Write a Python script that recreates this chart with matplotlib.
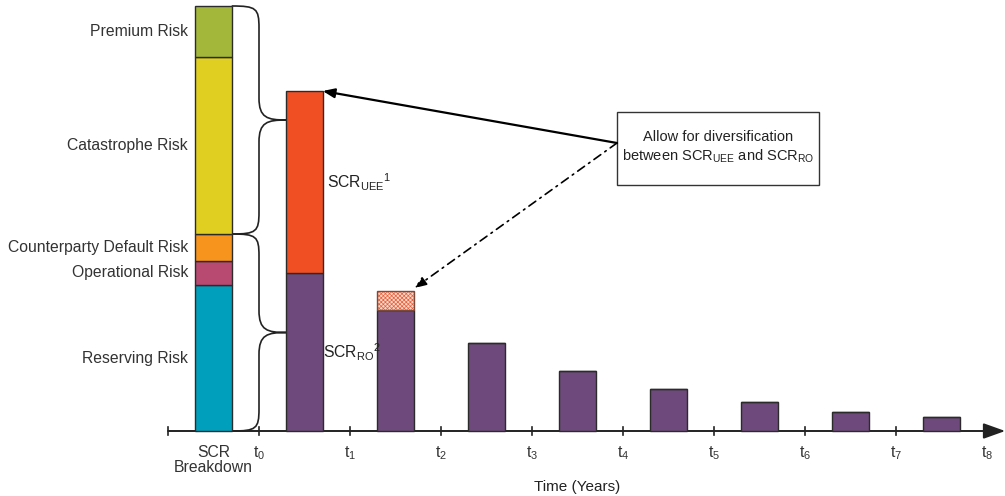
import numpy as np
import matplotlib.pyplot as plt
from matplotlib.patches import Rectangle, PathPatch
from matplotlib.path import Path

plt.rcParams['font.family'] = ['Liberation Sans', 'DejaVu Sans']
plt.rcParams['mathtext.fontset'] = 'custom'
plt.rcParams['mathtext.rm'] = 'Liberation Sans'
plt.rcParams['mathtext.it'] = 'Liberation Sans'
plt.rcParams['hatch.linewidth'] = 0.5

# SCR breakdown (stacked from the bottom)
risk_labels = ['Reserving Risk', 'Operational Risk', 'Counterparty Default Risk',
               'Catastrophe Risk', 'Premium Risk']
risk_values = [146, 24, 27, 177, 51]
risk_colors = ['#00a0bd', '#b84a72', '#f7941d', '#e0ce20', '#a3b83b']

# run-off of SCR over time (one bar per year)
period_labels = ['t$_{0}$', 't$_{1}$', 't$_{2}$', 't$_{3}$', 't$_{4}$',
                 't$_{5}$', 't$_{6}$', 't$_{7}$', 't$_{8}$']
scr_ro = [158, 121, 88, 60, 42, 29, 19, 14]
scr_uee = [182, 0, 0, 0, 0, 0, 0, 0]
diversification = [0, 19, 0, 0, 0, 0, 0, 0]

PURPLE = '#6d4a7b'
RED = '#f04e23'
EDGE = '#2b2b2b'
BAR_W = 0.4

fig = plt.figure(figsize=(10.05, 4.96), dpi=100)
ax = fig.add_axes([0, 0, 1, 1])
ax.set_xlim(-259 / 91, 746 / 91)
ax.set_ylim(-65, 431)
ax.axis('off')

# breakdown bar
x_bd = -0.5
bottoms = np.concatenate([[0], np.cumsum(risk_values)[:-1]])
ax.bar([x_bd] * len(risk_values), risk_values, BAR_W, bottom=bottoms,
       color=risk_colors, edgecolor=EDGE, linewidth=1, zorder=3)
for lab, b, v in zip(risk_labels, bottoms, risk_values):
    ax.text(x_bd - BAR_W / 2 - 0.08, b + v / 2, lab, ha='right', va='center',
            fontsize=11.3, color='#333333')

# time bars
xs = np.arange(len(scr_ro)) + 0.5
ax.bar(xs, scr_ro, BAR_W, color=PURPLE, edgecolor=EDGE, linewidth=1, zorder=3)
ax.bar(xs, scr_uee, BAR_W, bottom=scr_ro, color=RED, edgecolor=EDGE,
       linewidth=1, zorder=3)
ax.bar(xs, diversification, BAR_W, bottom=scr_ro, color='#fbd6c8',
       edgecolor='#e8603c', hatch='xxxxxxxx', linewidth=0, zorder=3)
for x, b, v in zip(xs, scr_ro, diversification):
    if v:
        ax.add_patch(Rectangle((x - BAR_W / 2, b), BAR_W, v, fill=False,
                               edgecolor='#7a4a3a', linewidth=1, zorder=4))

# time axis
ax.annotate('', xy=(8.2, 0), xytext=(-1, 0),
            arrowprops=dict(arrowstyle='-|>,head_length=0.95,head_width=0.34',
                            mutation_scale=14, lw=1.4, color='#222222',
                            shrinkA=0, shrinkB=0), zorder=2)
for k in range(-1, 8):
    ax.plot([k, k], [-4, 4], color='#222222', lw=1.2, zorder=2)
for k, lab in enumerate(period_labels):
    ax.text(k, -22, lab, ha='center', va='center',
            fontsize=11.3, color='#333333')
ax.text(x_bd, -29, 'SCR\nBreakdown', ha='center', va='center',
        fontsize=11.3, color='#333333', linespacing=1.05)
ax.text(3.5, -56, 'Time (Years)', ha='center', va='center',
        fontsize=11, color='#222222')


# curly braces from the breakdown bar to the first year bar
def brace(y0, y1, x0, x1, xm):
    ymid = (y0 + y1) / 2
    r = 22
    dx = xm - x0
    verts = [(x0, y1), (x0 + dx * 0.9, y1), (xm, y1 - r * 0.1), (xm, y1 - r),
             (xm, ymid + r),
             (xm, ymid + r * 0.1), (xm + (x1 - xm) * 0.3, ymid), (x1, ymid),
             (xm + (x1 - xm) * 0.3, ymid), (xm, ymid - r * 0.1), (xm, ymid - r),
             (xm, y0 + r),
             (xm, y0 + r * 0.1), (x0 + dx * 0.9, y0), (x0, y0)]
    codes = [Path.MOVETO, Path.CURVE4, Path.CURVE4, Path.CURVE4,
             Path.LINETO,
             Path.CURVE4, Path.CURVE4, Path.CURVE4,
             Path.CURVE4, Path.CURVE4, Path.CURVE4,
             Path.LINETO,
             Path.CURVE4, Path.CURVE4, Path.CURVE4]
    ax.add_patch(PathPatch(Path(verts, codes), fill=False, lw=1.2,
                           edgecolor='#222222', zorder=2))


cum = np.cumsum(risk_values)
bd_right = x_bd + BAR_W / 2
bar1_left = xs[0] - BAR_W / 2
brace(cum[2], cum[4], bd_right, bar1_left, bd_right + 0.3)
brace(0, cum[2], bd_right, bar1_left, bd_right + 0.3)

# segment labels
ax.text(xs[0] + BAR_W / 2 + 0.05, scr_ro[0] + scr_uee[0] / 2,
        r'SCR$_{\mathrm{UEE}}{}^{1}$', ha='left', va='center',
        fontsize=11.3, color='#222222')
ax.text(xs[0] + BAR_W / 2, scr_ro[0] / 2,
        r'SCR$_{\mathrm{RO}}{}^{2}$', ha='left', va='center',
        fontsize=11.3, color='#222222')

# note box with arrows
bx0, bx1 = (617 - 259) / 91, (819 - 259) / 91
by0, by1 = 431 - 185, 431 - 112
ax.add_patch(Rectangle((bx0, by0), bx1 - bx0, by1 - by0, fill=False,
                       edgecolor='#333333', lw=1, zorder=4))
ax.text((bx0 + bx1) / 2, 431 - 137, 'Allow for diversification',
        ha='center', va='center', fontsize=10.5, color='#222222')
ax.text((bx0 + bx1) / 2, 431 - 156,
        r'between SCR$_{\mathrm{UEE}}$ and SCR$_{\mathrm{RO}}$',
        ha='center', va='center', fontsize=10.5, color='#222222')
start = (bx0, 431 - 143)
ax.annotate('', xy=(xs[0] + BAR_W / 2, scr_ro[0] + scr_uee[0]), xytext=start,
            arrowprops=dict(arrowstyle='-|>,head_length=0.5,head_width=0.2',
                            mutation_scale=14, lw=1.6, color='black',
                            shrinkA=0, shrinkB=0), zorder=5)
ax.annotate('', xy=(xs[1] + BAR_W / 2 + 0.01, scr_ro[1] + diversification[1] + 3),
            xytext=start,
            arrowprops=dict(arrowstyle='-|>,head_length=0.5,head_width=0.2',
                            mutation_scale=14, lw=1.2, color='black',
                            linestyle=(0, (5, 3, 1, 3)),
                            shrinkA=0, shrinkB=0), zorder=5)

fig.savefig('out.png', dpi=100)
